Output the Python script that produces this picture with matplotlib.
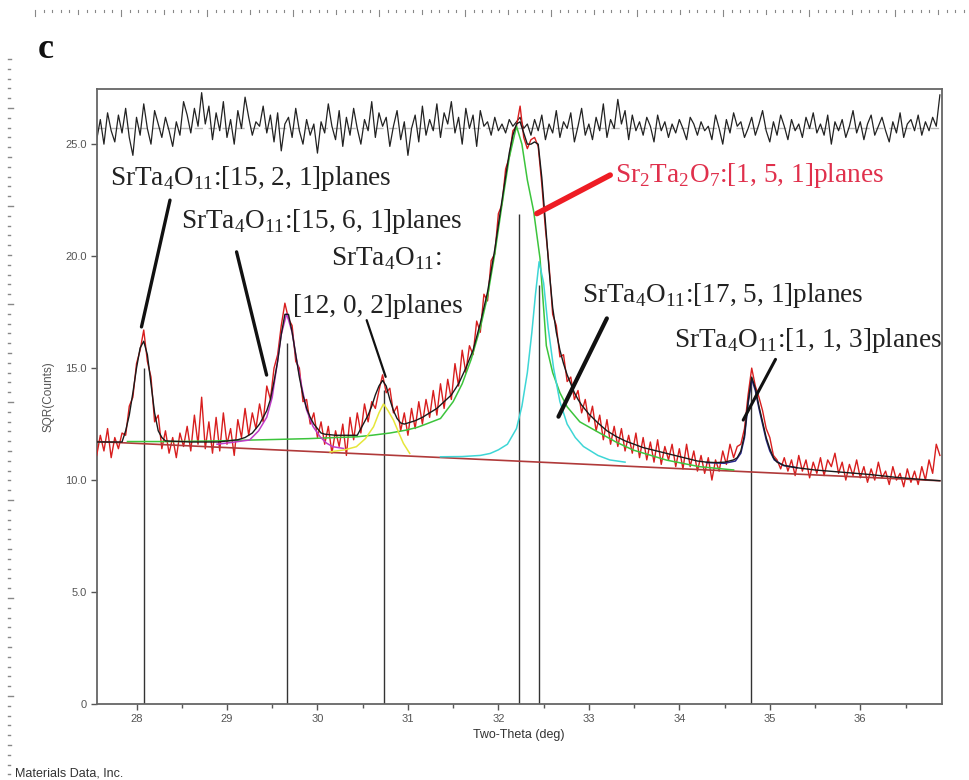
import numpy as np
import matplotlib
matplotlib.use("Agg")
import matplotlib.pyplot as plt
from matplotlib.lines import Line2D
from matplotlib.ticker import MultipleLocator, FuncFormatter

# ---------------- data ----------------
scan_start = 27.56
scan_step = 0.04
raw_counts = [
    11.1, 12.0, 11.3, 12.3, 11.0, 11.9, 11.4, 12.1, 12.0, 13.3,
    13.7, 15.2, 15.8, 16.7, 15.3, 14.6, 12.6, 12.9, 11.4, 12.2,
    11.2, 11.9, 11.0, 12.1, 11.5, 12.4, 11.3, 12.9, 11.6, 13.7,
    11.4, 12.6, 11.2, 12.8, 11.3, 13.0, 11.6, 12.3, 11.1, 12.7,
    11.9, 13.2, 12.0, 13.0, 12.3, 13.4, 12.6, 14.2, 13.6, 15.0,
    15.6, 16.9, 17.9, 17.2, 16.9, 15.3, 15.0, 13.5, 13.6, 12.5,
    13.0, 11.9, 12.6, 11.6, 12.4, 11.2, 12.2, 11.5, 12.5, 11.1,
    12.8, 11.8, 13.0, 12.1, 13.4, 12.6, 13.5, 13.2, 14.0, 14.7,
    13.9, 14.1, 13.0, 13.3, 12.2, 13.0, 12.0, 13.2, 12.3, 13.5,
    12.5, 13.6, 12.8, 14.0, 12.9, 14.3, 13.2, 14.5, 13.6, 15.2,
    14.2, 15.8, 14.8, 16.0, 15.6, 17.1, 16.6, 18.3, 18.0, 19.8,
    20.1, 21.9, 22.3, 23.9, 24.4, 25.6, 25.8, 26.7, 25.3, 24.8,
    25.2, 25.3, 24.9, 23.2, 21.2, 19.6, 17.4, 16.9, 15.5, 15.6,
    14.4, 14.6, 13.6, 14.0, 13.0, 13.6, 12.6, 13.3, 12.2, 12.9,
    11.8, 12.7, 11.6, 12.4, 11.5, 12.3, 11.3, 12.0, 11.2, 12.1,
    11.0, 11.9, 10.9, 11.7, 10.8, 11.8, 10.7, 11.5, 10.9, 11.6,
    10.6, 11.4, 10.5, 11.6, 10.6, 11.3, 10.4, 11.1, 10.3, 11.0,
    10.0, 10.9, 10.4, 11.3, 10.7, 11.6, 11.0, 11.5, 11.6, 12.3,
    13.8, 15.0, 14.2, 13.7, 13.1, 12.3, 11.9, 11.1, 10.9, 10.5,
    11.0, 10.4, 10.9, 10.2, 11.1, 10.4, 10.9, 10.1, 10.8, 10.3,
    11.0, 10.2, 10.9, 10.6, 11.2, 10.3, 10.8, 10.0, 10.7, 10.2,
    10.9, 10.1, 10.6, 9.9, 10.5, 10.0, 10.8, 10.1, 10.4, 9.8,
    10.6, 10.0, 10.3, 9.7, 10.5, 9.9, 10.4, 9.8, 10.6, 10.0,
    10.9, 10.3, 11.6, 11.1,
]
residual = [
    25.2, 26.1, 25.0, 26.4, 25.6, 25.1, 26.3, 25.5, 26.6, 25.3,
    24.5, 26.2, 25.4, 26.8, 25.7, 25.0, 26.5, 25.9, 25.3, 26.2,
    25.6, 24.9, 26.0, 25.4, 26.9, 26.3, 25.5, 26.6, 25.8, 27.3,
    25.9, 26.7, 25.2, 26.4, 25.6, 26.9, 25.3, 26.1, 25.0, 26.5,
    25.7, 27.1, 26.2, 25.4, 26.0, 25.8, 26.7, 25.5, 26.3, 25.1,
    26.4, 24.7, 25.9, 26.2, 25.3, 26.6, 25.6, 25.0, 26.1, 25.4,
    25.9, 24.6, 26.0, 25.5, 26.8, 25.8, 25.2, 26.5, 24.9, 26.2,
    25.4, 26.6, 25.7, 25.0, 26.1, 25.6, 26.9, 25.3, 26.4, 25.8,
    26.2, 24.9, 25.8, 26.5, 25.2, 26.0, 24.5, 25.7, 26.3, 25.1,
    26.7, 25.4, 26.1, 25.6, 26.8, 25.3, 26.4, 25.9, 26.9, 25.5,
    26.2, 25.0, 26.6, 25.7, 26.3, 24.9, 26.5, 25.8, 26.0, 25.4,
    26.2, 25.6, 25.9, 25.5, 26.1, 25.8, 26.0, 26.2, 25.7, 25.9,
    25.4, 26.1, 25.6, 26.3, 25.2, 25.9, 25.5, 26.5, 25.3, 26.0,
    25.7, 26.4, 25.1, 25.8, 26.6, 25.4, 25.9, 25.2, 26.2, 25.6,
    26.8, 25.3, 26.1, 25.7, 27.0, 25.9, 26.5, 25.2, 26.3, 25.6,
    26.0, 25.4, 26.2, 25.8, 25.1, 26.3, 25.6, 26.0, 25.3, 25.9,
    25.5, 26.1, 25.7, 25.2, 26.2, 25.9, 25.4, 26.0, 25.6, 25.8,
    25.2, 26.3, 25.7, 25.0, 26.1, 25.5, 26.4, 25.8, 26.0, 25.3,
    25.7, 26.2, 25.4, 25.9, 26.5, 25.6, 25.1, 26.0, 25.4, 26.3,
    25.8, 25.2, 26.1, 25.6, 25.9, 25.3, 26.2, 25.7, 26.4, 25.5,
    25.9, 25.4, 26.3, 25.0, 26.0, 25.6, 26.1, 25.3, 25.8, 26.5,
    25.5, 26.0, 25.2, 25.9, 26.3, 25.4, 25.8, 26.2, 25.6, 25.1,
    26.0, 25.5, 26.4, 25.3, 25.9, 26.1, 25.6, 26.3, 25.4, 26.0,
    25.6, 26.2, 25.8, 27.2,
]
residual_ref = 25.7

fit_x = [27.56, 27.84, 27.88, 27.92, 27.96, 28.00, 28.04, 28.08, 28.12, 28.16,
         28.20, 28.24, 28.28, 28.32, 28.6, 28.9, 29.12, 29.2, 29.28, 29.36,
         29.44, 29.48, 29.52, 29.56, 29.60, 29.64, 29.68, 29.72, 29.76, 29.80,
         29.84, 29.88, 29.92, 29.96, 30.00, 30.04, 30.08, 30.2, 30.44, 30.48,
         30.52, 30.56, 30.60, 30.64, 30.68, 30.72, 30.76, 30.80, 30.84, 30.88,
         30.92, 30.96, 31.00, 31.08, 31.16, 31.24, 31.32, 31.40, 31.48, 31.56,
         31.64, 31.72, 31.80, 31.88, 31.96, 32.04, 32.12, 32.16, 32.20, 32.24,
         32.28, 32.32, 32.36, 32.40, 32.44, 32.48, 32.52, 32.56, 32.60, 32.64,
         32.68, 32.72, 32.76, 32.80, 32.84, 32.88, 32.92, 32.96, 33.00, 33.1,
         33.2, 33.3, 33.4, 33.5, 33.6, 33.7, 33.8, 33.9, 34.0, 34.1,
         34.2, 34.3, 34.4, 34.5, 34.6, 34.64, 34.68, 34.72, 34.76, 34.80,
         34.84, 34.88, 34.92, 34.96, 35.00, 35.04, 35.08, 35.16, 35.3, 35.5,
         35.8, 36.1, 36.4, 36.7, 36.88]
fit_y = [11.70, 11.70, 12.2, 12.9, 13.9, 15.0, 15.9, 16.2, 15.6, 14.3,
         13.0, 12.2, 11.9, 11.75, 11.7, 11.7, 11.8, 11.9, 12.1, 12.5,
         13.1, 13.6, 14.4, 15.3, 16.5, 17.4, 17.4, 16.6, 15.6, 14.6,
         13.8, 13.2, 12.8, 12.5, 12.3, 12.1, 12.05, 12.0, 12.0, 12.3,
         12.6, 12.9, 13.3, 13.8, 14.2, 14.45, 14.2, 13.6, 13.1, 12.75,
         12.55, 12.5, 12.55, 12.65, 12.8, 13.0, 13.2, 13.5, 13.8, 14.3,
         15.0, 15.8, 17.0, 18.4, 20.3, 22.5, 24.6, 25.4, 25.9, 26.0,
         25.5, 25.0, 25.0, 25.1, 25.0, 23.5, 21.5, 19.4, 17.7, 16.6,
         15.8, 15.2, 14.7, 14.3, 13.9, 13.6, 13.35, 13.15, 12.95, 12.55,
         12.2, 11.95, 11.75, 11.6, 11.45, 11.35, 11.25, 11.15, 11.05, 10.95,
         10.85, 10.8, 10.78, 10.8, 10.9, 11.0, 11.3, 12.0, 13.5, 14.6,
         14.1, 13.3, 12.6, 11.9, 11.4, 11.0, 10.8, 10.65, 10.55, 10.45,
         10.35, 10.25, 10.12, 10.02, 9.97]

background_x = [27.56, 36.88]
background_y = [11.72, 9.97]

green_x = [27.9, 28.4, 28.9, 29.4, 29.9, 30.2, 30.43, 30.6, 30.8, 30.98,
           31.1, 31.2, 31.36, 31.5, 31.6, 31.7, 31.8, 31.88, 31.96, 32.04,
           32.12, 32.2, 32.26, 32.32, 32.39, 32.46, 32.53, 32.6, 32.68, 32.76,
           32.9, 33.12, 33.3, 33.49, 33.86, 34.22, 34.6]
green_y = [11.72, 11.72, 11.75, 11.8, 11.85, 11.9, 11.93, 12.0, 12.1, 12.23,
           12.35, 12.5, 12.75, 13.5, 14.3, 15.4, 16.8, 18.2, 20.1, 22.3,
           24.4, 25.8, 25.0, 23.4, 22.0, 19.9, 16.0, 14.8, 13.9, 13.27,
           12.6, 12.1, 11.7, 11.34, 10.89, 10.6, 10.45]

cyan_x = [31.36, 31.6, 31.8, 31.91, 32.0, 32.1, 32.2, 32.26, 32.32, 32.37,
          32.41, 32.45, 32.5, 32.55, 32.61, 32.68, 32.76, 32.85, 32.94, 33.1,
          33.23, 33.4]
cyan_y = [11.04, 11.05, 11.1, 11.19, 11.35, 11.6, 12.3, 13.3, 14.8, 16.6,
          18.3, 19.75, 18.8, 16.8, 15.0, 13.5, 12.5, 11.9, 11.5, 11.1,
          10.9, 10.8]

magenta_x = [28.89, 29.05, 29.25, 29.35, 29.44, 29.5, 29.55, 29.6, 29.66, 29.72,
             29.77, 29.83, 29.88, 29.95, 30.03, 30.1, 30.17, 30.29]
magenta_y = [11.6, 11.68, 11.79, 12.2, 12.81, 13.7, 15.06, 16.5, 17.44, 16.6,
             15.36, 14.1, 13.13, 12.4, 11.93, 11.65, 11.49, 11.41]

yellow_x = [30.14, 30.3, 30.43, 30.53, 30.62, 30.68, 30.73, 30.78, 30.84, 30.9,
            30.95, 31.02]
yellow_y = [11.26, 11.35, 11.49, 11.85, 12.38, 13.0, 13.4, 13.1, 12.68, 12.1,
            11.64, 11.19]

navy_x = [34.3, 34.5, 34.62, 34.68, 34.72, 34.76, 34.8, 34.84, 34.88, 34.92,
          34.96, 35.0, 35.05, 35.15, 35.3]
navy_y = [10.78, 10.75, 10.85, 11.2, 11.9, 13.4, 14.5, 14.0, 13.2, 12.5,
          11.8, 11.3, 10.9, 10.65, 10.55]

stick_positions = [28.08, 29.66, 30.74, 32.23, 32.45, 34.79]
stick_heights = [15.0, 16.1, 14.0, 21.9, 18.7, 14.5]

x_ticks = [28, 29, 30, 31, 32, 33, 34, 35, 36]
y_ticks = [0, 5, 10, 15, 20, 25]

# ---------------- figure ----------------
W, H = 969, 780
fig = plt.figure(figsize=(W / 100, H / 100), dpi=100)
plt.rcParams["mathtext.fontset"] = "custom"
plt.rcParams["mathtext.rm"] = "Liberation Serif"

def fx(px):
    return px / W

def fy(py):
    return 1 - py / H

ax = fig.add_axes([fx(96.7), fy(704), fx(941.7) - fx(96.7), fy(89.3) - fy(704)])

scan_x = np.round(scan_start + scan_step * np.arange(len(raw_counts)), 2)

ax.axhline(residual_ref, color="#b8b8b8", lw=1.0, ls=(0, (6, 4)), zorder=1)
ax.plot(scan_x, residual, color="#222222", lw=0.9, zorder=2)

for p, h in zip(stick_positions, stick_heights):
    ax.vlines(p, 0, h, color="#333333", lw=1.0, zorder=2)

ax.plot(scan_x, raw_counts, color="#d81e1e", lw=1.0, zorder=3)
ax.plot(background_x, background_y, color="#b03a3a", lw=1.2, zorder=4)
ax.plot(green_x, green_y, color="#3cc43c", lw=1.1, zorder=4)
ax.plot(cyan_x, cyan_y, color="#3ed6d6", lw=1.1, zorder=4)
ax.plot(magenta_x, magenta_y, color="#c03cc8", lw=1.1, zorder=4)
ax.plot(yellow_x, yellow_y, color="#e6e63a", lw=1.1, zorder=4)
ax.plot(navy_x, navy_y, color="#28288c", lw=1.1, zorder=4)
ax.plot(fit_x, fit_y, color="#1a1a1a", lw=1.0, zorder=5)

ax.set_xlim(27.56, 36.90)
ax.set_ylim(0, 27.45)

ax.set_xticks(x_ticks)
ax.xaxis.set_minor_locator(MultipleLocator(0.5))
ax.set_yticks(y_ticks)
ax.yaxis.set_major_formatter(FuncFormatter(lambda v, p: "0" if v == 0 else f"{v:.1f}"))
ax.tick_params(axis="both", which="major", direction="out", length=4, width=1,
               color="#555555", labelcolor="#555555", labelsize=8, pad=3)
ax.tick_params(axis="x", which="minor", direction="out", length=3, width=1, color="#555555")
for lab in ax.get_xticklabels() + ax.get_yticklabels():
    lab.set_fontfamily("Liberation Sans")
for s in ax.spines.values():
    s.set_color("#666666")
    s.set_linewidth(1.3)

ax.set_xlabel("Two-Theta (deg)", fontsize=9, color="#333333", family="Liberation Sans", labelpad=4)
ax.set_ylabel("SQR(Counts)", fontsize=8.5, color="#555555", family="Liberation Sans", labelpad=8)

# ---------------- annotations ----------------
serif = "Liberation Serif"
fs = 19.6
txt = "#222222"
sub = lambda s: r"$_\mathrm{" + s + "}$"
name = "SrTa" + sub("4") + "O" + sub("11") + ":"

ax.text(27.71, 23.17, name + "[15, 2, 1]planes", fontsize=fs, family=serif, color=txt, zorder=6)
ax.text(28.49, 21.27, name + "[15, 6, 1]planes", fontsize=fs, family=serif, color=txt, zorder=6)
ax.text(30.15, 19.60, name, fontsize=fs, family=serif, color=txt, zorder=6)
ax.text(29.73, 17.44, "[12, 0, 2]planes", fontsize=fs, family=serif, color=txt, zorder=6)
ax.text(33.29, 23.32, "Sr" + sub("2") + "Ta" + sub("2") + "O" + sub("7") + ":[1, 5, 1]planes",
        fontsize=fs, family=serif, color="#e0304c", zorder=6)
ax.text(32.92, 17.96, name + "[17, 5, 1]planes", fontsize=fs, family=serif, color=txt, zorder=6)
ax.text(33.94, 15.95, name + "[1, 1, 3]planes", fontsize=fs, family=serif, color=txt, zorder=6)

def leader(x0, y0, x1, y1, lw, color="#111111"):
    ax.annotate("", xy=(x1, y1), xytext=(x0, y0),
                arrowprops=dict(arrowstyle="-", lw=lw, color=color, shrinkA=0, shrinkB=0),
                zorder=6)

leader(28.37, 22.5, 28.055, 16.84, 2.4)
leader(29.106, 20.19, 29.438, 14.69, 2.4)
leader(30.544, 17.14, 30.754, 14.61, 1.6)
leader(33.236, 23.62, 32.425, 21.9, 4.0, color="#ee1c24")
leader(33.199, 17.22, 32.664, 12.83, 3.0)
leader(35.063, 15.39, 34.706, 12.68, 2.2)

# ---------------- page decorations ----------------
fig.text(fx(38), fy(50), "c", fontsize=26, fontweight="bold", family=serif,
         va="center", ha="left", color="#111111")
fig.text(fx(15), fy(773), "Materials Data, Inc.", fontsize=9, family="Liberation Sans",
         va="center", ha="left", color="#333333")

# top ruler
for i, px in enumerate(np.arange(35, W, 8.6)):
    k = i % 10
    L = 6 if k == 0 else (4 if k == 5 else 2)
    fig.add_artist(Line2D([fx(px), fx(px)], [fy(10), fy(10 + L)], color="#888888", lw=0.8))
# left ruler
for i, py in enumerate(np.arange(59, H, 9.8)):
    k = i % 10
    L = 5 if k == 5 else (3 if k == 0 else 1.5)
    fig.add_artist(Line2D([fx(8), fx(8 + L)], [fy(py), fy(py)], color="#888888", lw=1.0))

fig.savefig("out.png", dpi=100)
